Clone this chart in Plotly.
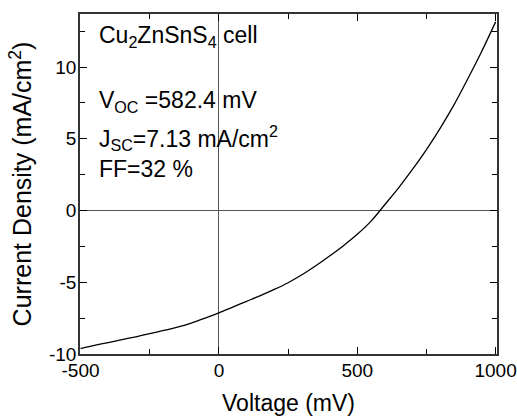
import plotly.graph_objects as go

voltage_mV = [-500, -450, -400, -350, -300, -250, -200, -150, -100, -50, 0, 50, 100, 150,
              200, 250, 300, 350, 400, 450, 500, 550, 600, 650, 700, 750, 800, 850,
              900, 950, 1000]
current_density = [-9.62, -9.4, -9.2, -9.0, -8.8, -8.58, -8.36, -8.12, -7.84, -7.5, -7.13,
                   -6.73, -6.33, -5.93, -5.5, -5.03, -4.48, -3.85, -3.17, -2.45, -1.66, -0.74,
                   0.42, 1.6, 2.88, 4.25, 5.75, 7.38, 9.2, 11.1, 13.15]

x_ticks = [-500, 0, 500, 1000]
x_tick_text = ["-500", "0", "500", "1000"]
x_minor = [-250, 250, 750]
y_ticks = [-10, -5, 0, 5, 10]
y_tick_text = ["-10", "-5", "0", "5", "10"]
y_minor = [-7.5, -2.5, 2.5, 7.5, 12.5]

labels = ["Cu<sub>2</sub>ZnSnS<sub>4</sub> cell",
          "V<sub>OC</sub> =582.4 mV",
          "J<sub>SC</sub>=7.13 mA/cm<sup>2</sup>",
          "FF=32 %"]
label_y = [12.15, 7.6, 5.05, 2.9]

FONT = "Arial, Liberation Sans, Helvetica, sans-serif"

fig = go.Figure()
fig.add_trace(go.Scatter(x=voltage_mV, y=current_density, mode="lines",
                         line=dict(color="black", width=1.3, shape="spline", smoothing=0.8),
                         showlegend=False))

for txt, yy in zip(labels, label_y):
    fig.add_annotation(x=-441, y=yy, xref="x", yref="y", text=txt, showarrow=False,
                       xanchor="left", yanchor="middle",
                       font=dict(family=FONT, size=23, color="black"))

axis_common = dict(showline=True, linecolor="#333", linewidth=1.6, mirror="allticks",
                   ticks="inside", ticklen=7, tickwidth=1.4, tickcolor="black",
                   showgrid=False, zeroline=True, zerolinecolor="#555", zerolinewidth=1,
                   automargin=False, ticklabeloverflow="allow",
                   tickfont=dict(family=FONT, size=19, color="black"))

fig.update_xaxes(range=[-502, 1005], tickmode="array", tickvals=x_ticks, ticktext=x_tick_text,
                 ticklabelstandoff=-2,
                 minor=dict(ticks="inside", tickmode="array", tickvals=x_minor, ticklen=5,
                            tickwidth=1.4, tickcolor="black", showgrid=False),
                 title=dict(text="Voltage (mV)", font=dict(family=FONT, size=23, color="black")),
                 **axis_common)
fig.update_yaxes(range=[-10, 13.7], tickmode="array", tickvals=y_ticks, ticktext=y_tick_text,
                 ticklabelstandoff=-2,
                 minor=dict(ticks="inside", tickmode="array", tickvals=y_minor, ticklen=5,
                            tickwidth=1.4, tickcolor="black", showgrid=False),
                 title=dict(text="Current Density (mA/cm<sup>2</sup>)", standoff=10,
                            font=dict(family=FONT, size=25, color="black")),
                 **axis_common)

fig.update_layout(width=517, height=418, margin=dict(l=80, r=20, t=14, b=64),
                  paper_bgcolor="white", plot_bgcolor="white",
                  font=dict(family=FONT, color="black"))

fig.write_html("out.html", config={"displayModeBar": False},
               post_script="document.body.style.margin='0px';")
